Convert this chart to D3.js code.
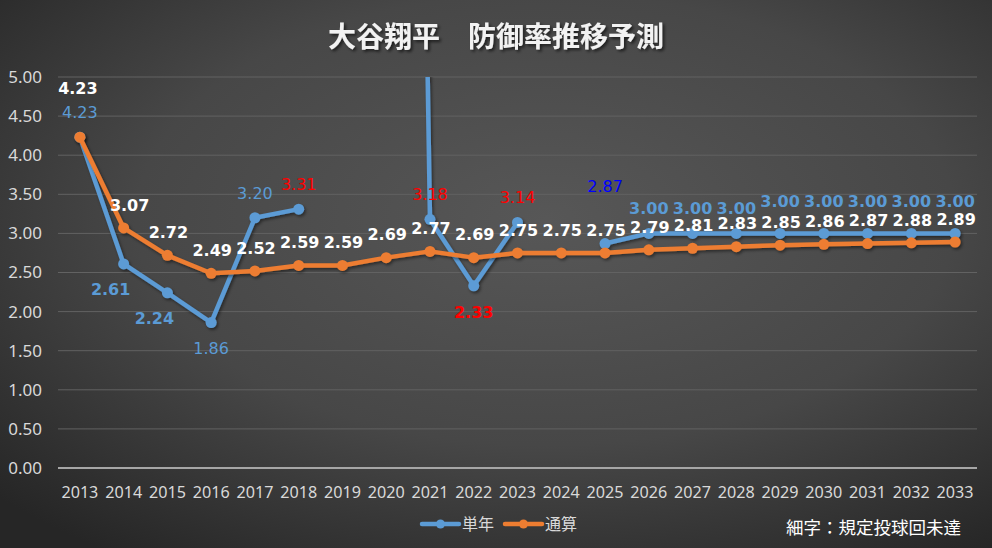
<!DOCTYPE html>
<html>
<head>
<meta charset="utf-8">
<script src="https://cdn.jsdelivr.net/npm/d3@7"></script>
<style>
  html, body { margin: 0; padding: 0; background: #333; }
  svg { display: block; }
</style>
</head>
<body>
<div id="graf"></div>
<script>
// Datos
const years = d3.range(2013, 2034).map(String)
// 単年 (null = no pitching)
const single = [4.23, 2.61, 2.24, 1.86, 3.20, 3.31, null, 37.80, 3.18, 2.33, 3.14, null,
  2.87, 3.00, 3.00, 3.00, 3.00, 3.00, 3.00, 3.00, 3.00]
// 規定投球回到達
const singleQualified = [false, true, true, false, false, false, false, false, false, true, false, false,
  false, true, true, true, true, true, true, true, true]
// 通算
const total = [4.23, 3.07, 2.72, 2.49, 2.52, 2.59, 2.59, 2.69, 2.77, 2.69, 2.75, 2.75,
  2.75, 2.79, 2.81, 2.83, 2.85, 2.86, 2.87, 2.88, 2.89]
const yTicks = [0, 0.5, 1, 1.5, 2, 2.5, 3, 3.5, 4, 4.5, 5]

// etiquetas
const singleLabelColor = ["lb", "lb", "lb", "lb", "lb", "red", null, null, "red", "red", "red", null,
  "blue", "lb", "lb", "lb", "lb", "lb", "lb", "lb", "lb"]
const singleLabelPos = ["up", "downLeft", "downLeft", "down", "up", "up", null, null, "up", "down", "up", null,
  "upFar", "up", "up", "up", "up2", "up2", "up2", "up2", "up2"]

const colors = { lb: "#5b9bd5", red: "#ff0000", blue: "#0000ff" }
const posOffset = {
  up: [0, -25], up2: [0, -32], upFar: [0, -57],
  down: [0, 26], downLeft: [-13, 25]
}

const W = 992, H = 548
const margins = { top: 77, right: 15, bottom: 80, left: 58 }
const ancho = W - margins.left - margins.right
const alto = H - margins.top - margins.bottom

const svg = d3.select("#graf").append("svg").attr("width", W).attr("height", H)
const defs = svg.append("defs")

const grad = defs.append("radialGradient").attr("id", "bg")
  .attr("cx", "55%").attr("cy", "40%").attr("r", "75%")
grad.append("stop").attr("offset", "0%").attr("stop-color", "#575757")
grad.append("stop").attr("offset", "55%").attr("stop-color", "#474747")
grad.append("stop").attr("offset", "100%").attr("stop-color", "#262626")
svg.append("rect").attr("width", W).attr("height", H).attr("fill", "url(#bg)")

const sh = defs.append("filter").attr("id", "shadow")
  .attr("x", "-10%").attr("y", "-30%").attr("width", "120%").attr("height", "160%")
sh.append("feDropShadow").attr("dx", 2).attr("dy", 2).attr("stdDeviation", 1.5)
  .attr("flood-color", "#000").attr("flood-opacity", 0.6)
const lsh = defs.append("filter").attr("id", "lshadow")
  .attr("x", "-10%").attr("y", "-10%").attr("width", "120%").attr("height", "120%")
lsh.append("feDropShadow").attr("dx", 1.5).attr("dy", 2).attr("stdDeviation", 1.5)
  .attr("flood-color", "#000").attr("flood-opacity", 0.45)

defs.append("clipPath").attr("id", "clip").append("rect")
  .attr("x", -10).attr("y", 0).attr("width", ancho + 20).attr("height", alto + 10)

// Título
svg.append("text")
  .attr("x", W / 2).attr("y", 47)
  .attr("text-anchor", "middle")
  .attr("fill", "#f2f2f2")
  .attr("font-family", "'Noto Sans CJK JP'")
  .attr("font-weight", "bold")
  .attr("font-size", 28)
  .attr("filter", "url(#shadow)")
  .attr("xml:space", "preserve")
  .text("大谷翔平　防御率推移予測")

const g = svg.append("g").attr("transform", `translate(${margins.left}, ${margins.top})`)

// Escaladores
const x = d3.scaleBand().domain(years).range([0, ancho])
const cx = (i) => x(years[i]) + x.bandwidth() / 2
const y = d3.scaleLinear().domain([0, 5]).range([alto, 0])

// grid
g.append("g").selectAll("line")
  .data(yTicks.filter((d) => d > 0))
  .join("line")
  .attr("x1", 0).attr("x2", ancho)
  .attr("y1", (d) => y(d)).attr("y2", (d) => y(d))
  .attr("stroke", "#626262").attr("stroke-width", 1)

// Ejes
const yAxis = d3.axisLeft(y).tickValues(yTicks).tickFormat(d3.format(".2f")).tickSize(0).tickPadding(16)
const yAxisGroup = g.append("g").call(yAxis)
yAxisGroup.select(".domain").remove()
yAxisGroup.selectAll("text")
  .attr("fill", "#d9d9d9").attr("font-family", "'Noto Sans', sans-serif").attr("font-size", 17)

g.append("line").attr("x1", 0).attr("x2", ancho).attr("y1", y(0)).attr("y2", y(0))
  .attr("stroke", "#a6a6a6").attr("stroke-width", 2)

const xAxis = d3.axisBottom(x).tickSize(0).tickPadding(18)
const xAxisGroup = g.append("g").attr("transform", `translate(0, ${alto})`).call(xAxis)
xAxisGroup.select(".domain").remove()
xAxisGroup.selectAll("text")
  .attr("fill", "#d9d9d9").attr("font-family", "'Noto Sans', sans-serif").attr("font-size", 17)
  .attr("textLength", 37).attr("lengthAdjust", "spacingAndGlyphs")

// Líneas
const plot = g.append("g").attr("clip-path", "url(#clip)")
const line = d3.line()
  .defined((d) => d != null)
  .x((d, i) => cx(i))
  .y((d) => y(d))

const series = [
  { key: "通算", values: total, color: "#ed7d31" },
  { key: "単年", values: single, color: "#5b9bd5" }
]

// 単年 first, 通算 drawn over it
const order = [series[1], series[0]]
order.forEach((s) => {
  const sg = plot.append("g").attr("filter", "url(#lshadow)")
  sg.append("path")
    .attr("d", line(s.values))
    .attr("fill", "none")
    .attr("stroke", s.color)
    .attr("stroke-width", 4.5)
    .attr("stroke-linejoin", "round")
  sg.selectAll("circle")
    .data(s.values.map((v, i) => ({ v, i })).filter((d) => d.v != null))
    .join("circle")
    .attr("cx", (d) => cx(d.i))
    .attr("cy", (d) => y(d.v))
    .attr("r", 5.5)
    .attr("fill", s.color)
})

// Etiquetas 通算
const fmt = d3.format(".2f")
g.append("g").selectAll("text")
  .data(total.map((v, i) => ({ v, i })))
  .join("text")
  .attr("x", (d) => cx(d.i) + (d.i === 1 ? 6 : d.i === 0 ? -2 : 1))
  .attr("y", (d) => y(d.v) - (d.i === 0 ? 49 : 23))
  .attr("dy", "0.36em")
  .attr("text-anchor", "middle")
  .attr("fill", "#ffffff")
  .attr("font-family", "'DejaVu Sans', sans-serif")
  .attr("font-weight", "bold")
  .attr("font-size", 16)
  .text((d) => fmt(d.v))

// Etiquetas 単年
g.append("g").selectAll("text")
  .data(single.map((v, i) => ({ v, i })).filter((d) => d.v != null && singleLabelPos[d.i]))
  .join("text")
  .attr("x", (d) => cx(d.i) + posOffset[singleLabelPos[d.i]][0])
  .attr("y", (d) => y(d.v) + posOffset[singleLabelPos[d.i]][1])
  .attr("dy", "0.36em")
  .attr("text-anchor", "middle")
  .attr("fill", (d) => colors[singleLabelColor[d.i]])
  .attr("font-family", "'DejaVu Sans', sans-serif")
  .attr("font-weight", (d) => (singleQualified[d.i] ? "bold" : "normal"))
  .attr("font-size", 16)
  .text((d) => fmt(d.v))

// Leyenda
const legend = svg.append("g").attr("transform", "translate(422, 524)")
const legItems = [
  { key: "単年", color: "#5b9bd5", x: 0 },
  { key: "通算", color: "#ed7d31", x: 83 }
]
legItems.forEach((it) => {
  const lg = legend.append("g").attr("transform", `translate(${it.x}, 0)`)
  lg.append("line").attr("x1", 0).attr("x2", 37).attr("y1", 0).attr("y2", 0)
    .attr("stroke", it.color).attr("stroke-width", 4.5).attr("stroke-linecap", "round")
  lg.append("circle").attr("cx", 18.5).attr("cy", 0).attr("r", 4.5).attr("fill", it.color)
  lg.append("text").attr("x", 40).attr("y", 0).attr("dy", "0.36em")
    .attr("fill", "#d9d9d9").attr("font-family", "'Noto Sans CJK JP'").attr("font-size", 16)
    .text(it.key)
})

// Nota
svg.append("text")
  .attr("x", 961).attr("y", 528)
  .attr("dy", "0.36em")
  .attr("text-anchor", "end")
  .attr("fill", "#ffffff")
  .attr("font-family", "'Noto Sans CJK JP'")
  .attr("font-size", 17.5)
  .text("細字：規定投球回未達")
</script>
</body>
</html>
